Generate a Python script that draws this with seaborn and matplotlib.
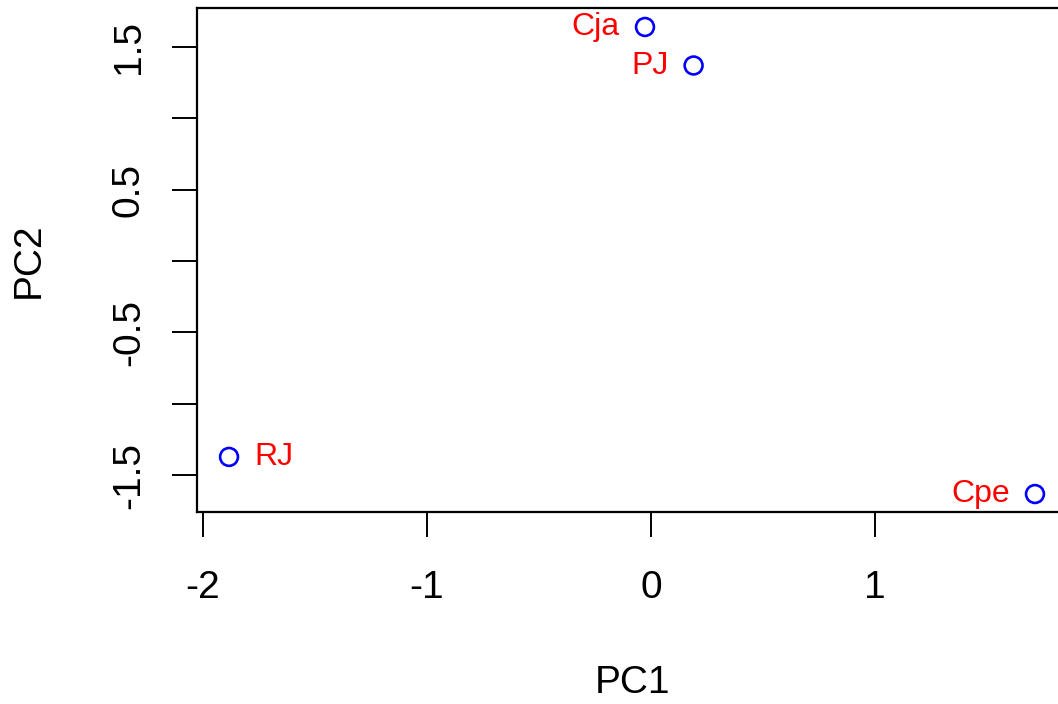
import matplotlib
matplotlib.use("Agg")
import matplotlib.pyplot as plt
import seaborn as sns
import pandas as pd

# PCA scores for each sample
samples = ["Cja", "PJ", "RJ", "Cpe"]
pc1 = [-0.027, 0.19, -1.884, 1.714]
pc2 = [1.64, 1.37, -1.373, -1.633]
# which side of the point each label sits on
label_side = ["left", "left", "right", "left"]

xticks = [-2, -1, 0, 1]
yticks = [-1.5, -1.0, -0.5, 0.0, 0.5, 1.0, 1.5]
ytick_labels = ["-1.5", "", "-0.5", "", "0.5", "", "1.5"]

sns.set_style("white")
plt.rcParams["font.family"] = ["Liberation Sans", "DejaVu Sans"]
plt.rcParams["text.color"] = "black"
plt.rcParams["axes.labelcolor"] = "black"
plt.rcParams["xtick.color"] = "black"
plt.rcParams["ytick.color"] = "black"

df = pd.DataFrame({"PC1": pc1, "PC2": pc2, "sample": samples})

W, H = 1058, 704
fig = plt.figure(figsize=(W / 100, H / 100), dpi=100)
ax = fig.add_axes([197 / W, (H - 512) / H, (1067 - 197) / W, (512 - 8) / H])

sns.scatterplot(data=df, x="PC1", y="PC2", ax=ax, marker="o", s=165,
                facecolor="none", edgecolor="blue", linewidth=1.9)

for x, y, name, side in zip(pc1, pc2, samples, label_side):
    dx = -18 if side == "left" else 18
    ax.annotate(name, (x, y), xytext=(dx, 0), textcoords="offset points",
                ha="right" if side == "left" else "left", va="center",
                color="red", fontsize=23)

ax.set_xlim(-2.027, 1.857)
ax.set_ylim(-1.759, 1.773)

ax.set_xticks(xticks)
ax.set_xticklabels([str(t) for t in xticks])
ax.set_yticks(yticks)
ax.set_yticklabels(ytick_labels, rotation=90, va="center")

ax.tick_params(axis="both", direction="out", length=18, width=1.4,
               labelsize=28, left=True, bottom=True)
ax.tick_params(axis="x", pad=24)
ax.tick_params(axis="y", pad=18)

for side in ["left", "bottom", "top", "right"]:
    ax.spines[side].set_visible(True)
    ax.spines[side].set_color("black")
    ax.spines[side].set_linewidth(1.6)

ax.set_xlabel("PC1", fontsize=28, labelpad=42)
ax.set_ylabel("PC2", fontsize=28, labelpad=46)

fig.savefig("out.png", dpi=100)
